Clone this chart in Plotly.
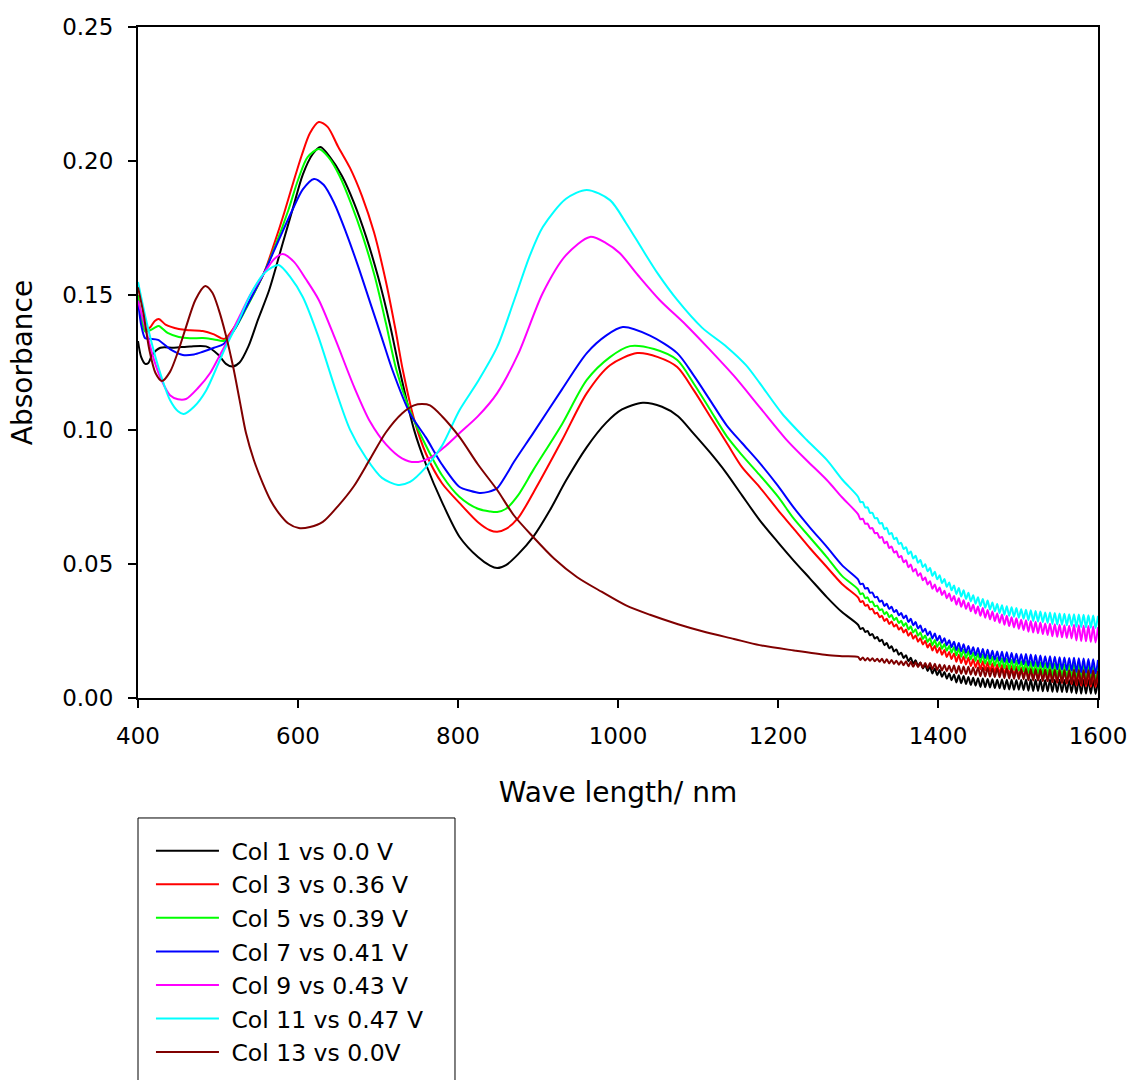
import plotly.graph_objects as go

# ---------------- data ----------------
names = ["Col 1 vs 0.0 V", "Col 3 vs 0.36 V", "Col 5 vs 0.39 V", "Col 7 vs 0.41 V",
         "Col 9 vs 0.43 V", "Col 11 vs 0.47 V", "Col 13 vs 0.0V"]
colors = ["#000000", "#FF0000", "#00FF00", "#0000FF", "#FF00FF", "#00FFFF", "#800000"]

x_ticks = [400, 600, 800, 1000, 1200, 1400, 1600]
y_ticks = [0.00, 0.05, 0.10, 0.15, 0.20, 0.25]

# smooth part of each spectrum (wavelength nm, absorbance)
black_x = [400, 404, 409, 413, 418, 428, 445, 465, 485, 500, 510, 518, 527, 538, 550, 564, 581, 593, 606, 618,
           628, 640, 655, 670, 685, 700, 715, 727, 745, 760, 780, 802, 825, 840, 849, 860, 875, 894, 915, 935, 961,
           985, 1005, 1031, 1055, 1075, 1094, 1115, 1135, 1155, 1177, 1200, 1219, 1240, 1261, 1280]
black_y = [.133, .127, .1245, .1248, .128, .1305, .1305, .131, .131, .128, .1245, .1235, .125, .131, .141, .152,
           .1695, .1818, .195, .2025, .2053, .2015, .1945, .1845, .172, .157, .139, .1222, .100, .087, .073, .060,
           .0525, .0493, .0484, .0495, .0535, .060, .070, .081, .0935, .1025, .1075, .110, .1085, .105, .0987, .0915,
           .084, .0755, .0663, .058, .0514, .0445, .0376, .032]

red_x = [400, 404, 409, 415, 421, 426, 435, 451, 465, 481, 495, 508, 520, 535, 557, 570, 583, 595, 605, 615,
         626, 637, 650, 665, 680, 695, 710, 722, 731, 745, 760, 780, 802, 825, 840, 849, 860, 875, 894, 930, 961,
         990, 1024, 1050, 1074, 1095, 1115, 1136, 1155, 1177, 1200, 1219, 1240, 1261, 1280]
red_y = [.150, .142, .137, .138, .1405, .1412, .139, .1375, .137, .1367, .1355, .1338, .138, .1455, .158, .169,
         .181, .193, .2025, .2105, .2146, .2128, .2055, .1975, .187, .1735, .155, .137, .1222, .104, .091, .080,
         .0726, .0655, .0625, .0619, .063, .067, .0764, .096, .1136, .124, .1285, .127, .1233, .1145, .105, .095,
         .086, .0786, .070, .0633, .0558, .0488, .0425]

green_x = [400, 404, 409, 415, 421, 426, 437, 451, 465, 481, 495, 508, 520, 535, 557, 571, 588, 600, 612, 626,
           638, 652, 666, 681, 696, 710, 723, 740, 760, 780, 802, 825, 840, 849, 860, 875, 894, 930, 961, 990, 1015,
           1045, 1074, 1095, 1115, 1136, 1155, 1177, 1200, 1219, 1240, 1261, 1280]
green_y = [.150, .142, .1365, .137, .138, .1386, .136, .1345, .134, .1341, .1336, .1331, .137, .145, .158, .168,
           .1818, .193, .2015, .2045, .2015, .1945, .1845, .172, .157, .1395, .1222, .107, .094, .083, .0749, .0705,
           .0695, .0693, .0705, .0755, .0849, .102, .1185, .127, .1311, .130, .1259, .117, .1075, .0975, .0905,
           .0831, .075, .0671, .0598, .0525, .0455]

blue_x = [400, 404, 409, 415, 425, 440, 456, 470, 481, 495, 507, 520, 535, 557, 575, 593, 606, 620, 632, 645,
          660, 675, 690, 705, 718, 740, 760, 780, 802, 815, 827, 838, 849, 860, 870, 894, 930, 961, 985, 1006, 1040,
          1074, 1095, 1115, 1136, 1155, 1177, 1200, 1219, 1240, 1261, 1280]
blue_y = [.148, .139, .134, .1338, .1334, .130, .1278, .128, .129, .1305, .1319, .137, .1455, .158, .170, .1818,
          .1895, .1934, .1912, .1845, .1735, .161, .1475, .134, .1222, .106, .097, .087, .0786, .0772, .0764, .0768,
          .0782, .083, .088, .0987, .115, .1285, .135, .1382, .135, .1285, .120, .111, .1015, .095, .0876, .079,
          .0712, .0635, .0563, .0495]

magenta_x = [400, 410, 420, 430, 440, 450, 460, 475, 490, 501, 510, 525, 540, 557, 570, 581, 595, 610, 626, 647,
             670, 690, 710, 730, 746, 765, 785, 802, 825, 849, 875, 906, 935, 965, 985, 1002, 1025, 1052, 1085,
             1115, 1145, 1177, 1211, 1236, 1261, 1280]
magenta_y = [.148, .137, .126, .118, .1128, .1113, .1114, .1155, .121, .127, .132, .141, .150, .158, .1635, .1654,
             .1625, .156, .1483, .1334, .116, .103, .0945, .0893, .0879, .0895, .094, .0987, .105, .1136, .128, .1509,
             .165, .1718, .1695, .1658, .1575, .1483, .139, .1297, .120, .1084, .0961, .0885, .0812, .0748]

cyan_x = [400, 410, 420, 430, 440, 450, 457, 470, 485, 501, 510, 525, 540, 557, 568, 576, 590, 606, 625, 647,
          665, 685, 705, 725, 740, 760, 780, 802, 825, 849, 870, 890, 906, 935, 961, 990, 1010, 1031, 1050, 1074,
          1105, 1136, 1160, 1177, 1205, 1236, 1261, 1280]
cyan_y = [.155, .141, .129, .119, .111, .1068, .1058, .1085, .1145, .125, .131, .140, .150, .158, .1605, .1613,
          .157, .1494, .135, .1148, .100, .0895, .082, .0794, .0805, .086, .094, .1073, .118, .1308, .148, .165,
          .1755, .186, .1893, .1855, .177, .1669, .158, .1483, .138, .1308, .124, .1174, .106, .0961, .0887, .0815]

brown_x = [400, 407, 414, 422, 430, 440, 450, 460, 472, 484, 493, 501, 510, 519, 527, 535, 545, 556, 566, 576,
           588, 601, 615, 631, 650, 670, 690, 710, 730, 745, 755, 765, 780, 802, 825, 849, 870, 894, 920, 949,
           980, 1010, 1040, 1075, 1110, 1145, 1177, 1220, 1261, 1280]
brown_y = [.153, .143, .130, .121, .1181, .1215, .129, .1382, .1485, .1535, .151, .1446, .135, .1233, .111, .0987,
           .0885, .080, .0735, .0689, .065, .0633, .0637, .0656, .0715, .079, .089, .099, .106, .109, .1095, .109,
           .105, .0972, .087, .0775, .068, .060, .052, .045, .0395, .0345, .031, .0275, .0245, .022, .0197, .0177,
           .016, .0156]

tail_x = list(range(1300, 1601, 3))

black_tail = [.0273, .0257, .0261, .0246, .0250, .0234, .0238, .0222, .0227, .0211,
              .0217, .0197, .0205, .0185, .0193, .0173, .0181, .0161, .0169, .0149,
              .0159, .0137, .0150, .0128, .0141, .0119, .0132, .0110, .0123, .0101,
              .0116, .0091, .0110, .0085, .0104, .0079, .0097, .0072, .0091, .0066,
              .0088, .0058, .0085, .0055, .0082, .0052, .0078, .0049, .0075, .0046,
              .0074, .0041, .0073, .0040, .0071, .0039, .0070, .0037, .0068, .0036,
              .0069, .0033, .0068, .0032, .0068, .0031, .0067, .0031, .0067, .0030,
              .0069, .0027, .0069, .0026, .0068, .0026, .0068, .0025, .0067, .0025,
              .0069, .0023, .0068, .0022, .0068, .0022, .0067, .0021, .0067, .0020,
              .0069, .0017, .0069, .0016, .0068, .0016, .0068, .0016, .0067, .0015,
              .0067]
red_tail = [.0375, .0358, .0361, .0344, .0347, .0330, .0332, .0315, .0318, .0301,
            .0306, .0287, .0295, .0276, .0285, .0266, .0274, .0255, .0264, .0244,
            .0255, .0232, .0244, .0221, .0233, .0210, .0223, .0199, .0212, .0188,
            .0203, .0177, .0195, .0169, .0187, .0161, .0179, .0153, .0171, .0145,
            .0166, .0135, .0161, .0130, .0155, .0125, .0150, .0119, .0144, .0114,
            .0141, .0107, .0137, .0103, .0133, .0099, .0129, .0095, .0125, .0091,
            .0123, .0086, .0121, .0083, .0118, .0081, .0116, .0079, .0113, .0076,
            .0114, .0071, .0112, .0069, .0110, .0067, .0108, .0065, .0106, .0063,
            .0106, .0059, .0104, .0057, .0102, .0056, .0101, .0054, .0099, .0052,
            .0100, .0047, .0098, .0046, .0097, .0044, .0095, .0042, .0094, .0041,
            .0092]
green_tail = [.0405, .0387, .0390, .0372, .0375, .0357, .0359, .0342, .0344, .0327,
              .0331, .0312, .0320, .0301, .0309, .0290, .0299, .0279, .0288, .0268,
              .0279, .0255, .0267, .0244, .0256, .0232, .0244, .0220, .0233, .0209,
              .0223, .0197, .0216, .0190, .0209, .0183, .0201, .0176, .0194, .0169,
              .0190, .0159, .0185, .0154, .0180, .0149, .0174, .0144, .0169, .0139,
              .0166, .0132, .0162, .0128, .0158, .0124, .0154, .0120, .0150, .0116,
              .0148, .0111, .0145, .0108, .0142, .0105, .0140, .0102, .0137, .0099,
              .0137, .0094, .0135, .0092, .0133, .0091, .0132, .0089, .0130, .0087,
              .0130, .0083, .0128, .0082, .0127, .0080, .0125, .0078, .0124, .0077,
              .0125, .0072, .0124, .0071, .0122, .0070, .0121, .0068, .0119, .0067,
              .0118]
blue_tail = [.0442, .0424, .0426, .0408, .0410, .0392, .0393, .0375, .0377, .0359,
             .0363, .0343, .0351, .0332, .0340, .0320, .0328, .0308, .0317, .0297,
             .0307, .0283, .0295, .0271, .0283, .0259, .0270, .0246, .0258, .0234,
             .0248, .0222, .0240, .0214, .0232, .0206, .0223, .0197, .0215, .0189,
             .0210, .0179, .0205, .0174, .0200, .0169, .0194, .0164, .0189, .0159,
             .0186, .0152, .0183, .0149, .0180, .0146, .0176, .0143, .0173, .0140,
             .0172, .0135, .0170, .0133, .0168, .0131, .0165, .0128, .0163, .0126,
             .0164, .0121, .0162, .0119, .0160, .0117, .0158, .0115, .0156, .0113,
             .0156, .0109, .0154, .0107, .0152, .0106, .0151, .0104, .0149, .0102,
             .0150, .0097, .0148, .0096, .0147, .0094, .0145, .0092, .0144, .0091,
             .0142]
magenta_tail = [.0685, .0666, .0668, .0649, .0650, .0632, .0633, .0614, .0615, .0597,
                .0600, .0577, .0582, .0559, .0564, .0542, .0547, .0524, .0529, .0506,
                .0513, .0487, .0497, .0471, .0481, .0455, .0465, .0439, .0449, .0423,
                .0435, .0407, .0423, .0396, .0412, .0384, .0400, .0372, .0389, .0361,
                .0380, .0348, .0372, .0340, .0364, .0332, .0355, .0323, .0347, .0315,
                .0341, .0306, .0335, .0299, .0328, .0293, .0322, .0287, .0315, .0280,
                .0311, .0273, .0306, .0268, .0301, .0263, .0297, .0258, .0292, .0253,
                .0290, .0247, .0287, .0244, .0284, .0241, .0281, .0238, .0278, .0235,
                .0277, .0230, .0275, .0228, .0273, .0226, .0271, .0224, .0269, .0222,
                .0273, .0214, .0271, .0212, .0269, .0211, .0268, .0209, .0266, .0207,
                .0264]
cyan_tail = [.0750, .0730, .0730, .0710, .0710, .0690, .0690, .0670, .0670, .0650,
             .0652, .0629, .0634, .0610, .0615, .0592, .0597, .0574, .0578, .0555,
             .0562, .0536, .0546, .0520, .0530, .0504, .0514, .0488, .0498, .0472,
             .0484, .0455, .0470, .0442, .0457, .0428, .0443, .0414, .0430, .0401,
             .0419, .0387, .0410, .0378, .0401, .0369, .0392, .0360, .0383, .0351,
             .0375, .0342, .0369, .0336, .0363, .0330, .0356, .0323, .0350, .0317,
             .0346, .0310, .0342, .0306, .0338, .0303, .0335, .0299, .0331, .0295,
             .0329, .0290, .0327, .0287, .0324, .0285, .0322, .0283, .0319, .0280,
             .0319, .0276, .0317, .0274, .0315, .0273, .0314, .0271, .0312, .0269,
             .0312, .0265, .0311, .0264, .0310, .0263, .0308, .0262, .0307, .0261,
             .0306]
brown_tail = [.0153, .0142, .0151, .0140, .0149, .0139, .0148, .0137, .0146, .0135,
              .0146, .0131, .0144, .0129, .0142, .0127, .0139, .0124, .0137, .0122,
              .0137, .0118, .0135, .0116, .0133, .0115, .0132, .0113, .0130, .0111,
              .0130, .0107, .0128, .0104, .0125, .0102, .0123, .0100, .0120, .0097,
              .0121, .0092, .0119, .0090, .0117, .0089, .0116, .0087, .0114, .0085,
              .0114, .0081, .0113, .0080, .0112, .0079, .0110, .0078, .0109, .0077,
              .0110, .0074, .0109, .0073, .0108, .0072, .0107, .0071, .0106, .0070,
              .0108, .0066, .0107, .0065, .0106, .0064, .0106, .0063, .0105, .0062,
              .0106, .0060, .0105, .0059, .0104, .0058, .0104, .0057, .0103, .0056,
              .0105, .0053, .0104, .0052, .0103, .0051, .0103, .0050, .0102, .0049,
              .0101]

series = [
    (black_x, black_y, black_tail),
    (red_x, red_y, red_tail),
    (green_x, green_y, green_tail),
    (blue_x, blue_y, blue_tail),
    (magenta_x, magenta_y, magenta_tail),
    (cyan_x, cyan_y, cyan_tail),
    (brown_x, brown_y, brown_tail),
]

# ---------------- figure ----------------
FONT = "DejaVu Sans, Verdana, sans-serif"
fig = go.Figure()
for (sx, sy, st), name, col in zip(series, names, colors):
    fig.add_trace(go.Scatter(
        x=sx + tail_x, y=sy + st, mode="lines", name="\u00a0" + name,
        line=dict(color=col, width=2, shape="spline", smoothing=0.8),
    ))

# plot frame at 138..1098 (x) and 27..698 (y) in a 1131x1080 page
fig.update_layout(
    width=1131, height=1080,
    margin=dict(l=138, r=33, t=27, b=382, pad=0, autoexpand=False),
    plot_bgcolor="white", paper_bgcolor="white",
    font=dict(family=FONT, color="black"),
    legend=dict(
        x=0.0135, y=-0.1952, xanchor="left", yanchor="top",
        borderwidth=0, bgcolor="rgba(0,0,0,0)",
        font=dict(size=23.5, family=FONT, color="black"),
        itemwidth=63, tracegroupgap=0,
    ),
    shapes=[dict(type="rect", xref="paper", yref="paper", x0=0, x1=0.3302, y0=-0.62, y1=-0.1788,
                 line=dict(color="black", width=1), fillcolor="rgba(0,0,0,0)", layer="below")],
)
fig.update_xaxes(
    range=[400, 1600], tickvals=x_ticks, ticks="outside", ticklen=8, tickwidth=2, tickcolor="black",
    showline=True, linewidth=2, linecolor="black", mirror=True, showgrid=False, zeroline=False,
    automargin=False, ticklabelstandoff=8,
    tickfont=dict(size=23, family=FONT), title=dict(text="Wave length/ nm", font=dict(size=28), standoff=35),
)
fig.update_yaxes(
    range=[0, 0.25], tickvals=y_ticks, tickformat=".2f", ticks="outside", ticklen=8, tickwidth=2,
    tickcolor="black", showline=True, linewidth=2, linecolor="black", mirror=True, showgrid=False,
    zeroline=False, automargin=False, ticklabelstandoff=10, tickfont=dict(size=23, family=FONT),
    title=dict(text="Absorbance", font=dict(size=28), standoff=21),
)

fig.write_html(
    "out.html",
    config={"displayModeBar": False},
    post_script="document.body.style.margin='0';document.body.style.overflow='hidden';",
)
